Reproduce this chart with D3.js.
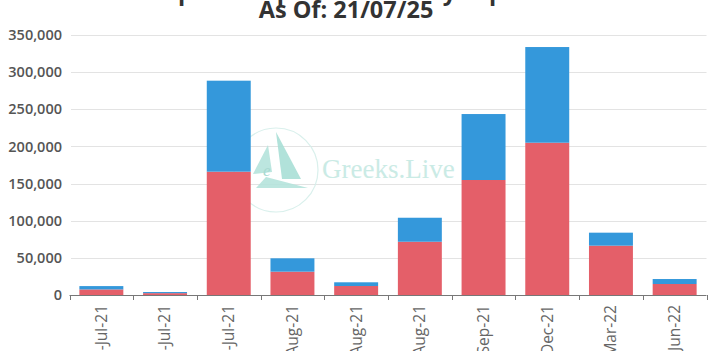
<!DOCTYPE html>
<html>
<head>
<meta charset="utf-8">
<script src="https://cdn.jsdelivr.net/npm/d3@7"></script>
<style>
  html, body { margin: 0; padding: 0; background: #fff; overflow: hidden; }
  svg { display: block; font-family: "Open Sans", "Noto Sans", sans-serif; }
</style>
</head>
<body>
<svg id="chart" width="713" height="351"></svg>
<script>
const categories = ["26-Jul-21", "27-Jul-21", "30-Jul-21", "06-Aug-21", "13-Aug-21", "27-Aug-21", "24-Sep-21", "31-Dec-21", "25-Mar-22", "24-Jun-22"];
const seriesNames = ["Puts", "Calls"];
const redValues = [7500, 2500, 166000, 31400, 12100, 71700, 154800, 205000, 66400, 14800];
const blueValues = [4500, 1500, 122500, 18000, 5000, 32300, 88800, 128800, 17500, 6700];
const yTicks = [0, 50000, 100000, 150000, 200000, 250000, 300000, 350000];
const titleLines = ["BTC Options Open Interest By Expiration", "As Of: 21/07/25"];
const watermarkText = "Greeks.Live";

const svg = d3.select("#chart");
const W = 713, H = 351;
const margin = { left: 69.5, right: 6.5, top: 35, bottom: 56 };

const x = d3.scaleBand().domain(categories).range([margin.left, W - margin.right]).padding(0);
const y = d3.scaleLinear().domain([0, 350000]).range([H - margin.bottom, margin.top]);
const colors = ["#e45f69", "#3498db"];

// gridlines
svg.append("g").selectAll("line").data(yTicks.filter(d => d > 0)).join("line")
  .attr("x1", 71).attr("x2", W - margin.right)
  .attr("y1", d => Math.round(y(d)) + 0.5).attr("y2", d => Math.round(y(d)) + 0.5)
  .attr("stroke", "#e3e3e3").attr("stroke-width", 1);

// watermark
const wm = svg.append("g").attr("opacity", 0.9);
wm.append("circle").attr("cx", 276).attr("cy", 170).attr("r", 42)
  .attr("fill", "none").attr("stroke", "#d6efeb").attr("stroke-width", 1.2);
wm.append("polygon").attr("points", "253,174 268,145 272,172").attr("fill", "#b5e4dc");
wm.append("polygon").attr("points", "276,132 301,179 282,179").attr("fill", "#a9dfd6");
wm.append("polygon").attr("points", "256,188 266,177 308,188").attr("fill", "#b5e4dc");
wm.append("text").attr("x", 263).attr("y", 176).attr("font-family", "Liberation Serif, serif")
  .attr("font-style", "italic").attr("font-size", 17).attr("fill", "#9fd6cd").text("e");
wm.append("text").attr("x", 322).attr("y", 178)
  .attr("font-family", "Liberation Serif, DejaVu Serif, serif")
  .attr("font-size", 27).attr("fill", "#c5e9e3").text(watermarkText);

// stacked bars
const stackData = categories.map((c, i) => ({ cat: c, Puts: redValues[i], Calls: blueValues[i] }));
const stack = d3.stack().keys(seriesNames)(stackData);
const barW = x.bandwidth() * 0.69;
svg.append("g").selectAll("g").data(stack).join("g")
  .attr("fill", (d, i) => colors[i])
  .selectAll("rect").data(d => d).join("rect")
  .attr("x", d => x(d.data.cat) + (x.bandwidth() - barW) / 2)
  .attr("width", barW)
  .attr("y", d => y(d[1]))
  .attr("height", d => y(d[0]) - y(d[1]));

// y axis labels
svg.append("g").selectAll("text").data(yTicks).join("text")
  .attr("x", 62).attr("y", d => y(d)).attr("dy", "0.35em")
  .attr("text-anchor", "end").attr("font-size", 14.5).attr("font-weight", 600)
  .attr("fill", "#555").text(d => d3.format(",")(d));

// x axis
const xAxis = svg.append("g").attr("transform", `translate(0,${y(0)})`)
  .call(d3.axisBottom(x).tickSize(0).tickFormat(d => d));
xAxis.select(".domain").attr("stroke", "#777").attr("d", `M${margin.left},0.5H${W - margin.right}`);
xAxis.selectAll(".tick text")
  .attr("font-family", "Open Sans, sans-serif").attr("font-size", 15.5)
  .attr("fill", "#666").attr("text-anchor", "end")
  .attr("transform", "rotate(-90)").attr("x", -10).attr("y", 0).attr("dy", "0.35em");
// boundary ticks
const bounds = categories.map(c => x(c)).concat([x(categories[categories.length - 1]) + x.bandwidth()]);
svg.append("g").selectAll("line").data(bounds).join("line")
  .attr("x1", d => Math.round(d) + 0.5).attr("x2", d => Math.round(d) + 0.5)
  .attr("y1", y(0)).attr("y2", y(0) + 5).attr("stroke", "#777");

// title
svg.append("g").selectAll("text").data(titleLines).join("text")
  .attr("x", 346).attr("y", (d, i) => -0.5 + i * 18)
  .attr("text-anchor", "middle").attr("font-size", 23.5).attr("font-weight", 700)
  .attr("fill", "#333").text(d => d);
</script>
</body>
</html>
